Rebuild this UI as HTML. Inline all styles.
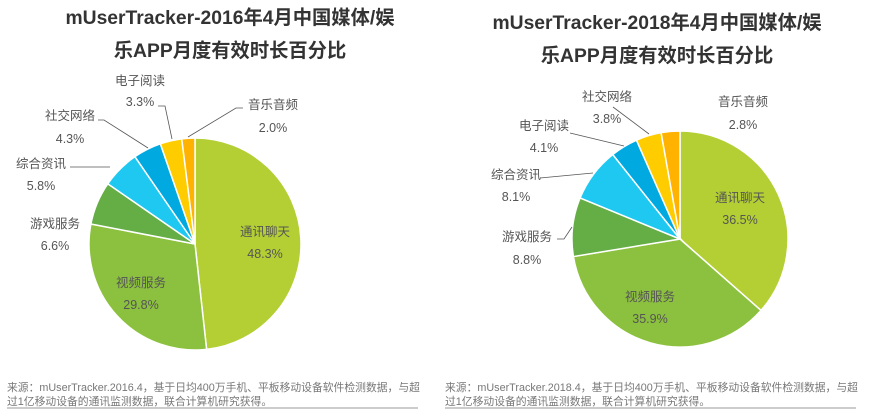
<!DOCTYPE html>
<html><head><meta charset="utf-8">
<style>
html,body{margin:0;padding:0;background:#fff;width:877px;height:411px;overflow:hidden}
svg{display:block}
text{font-family:"Liberation Sans","Noto Sans CJK SC",sans-serif}
.t{font-weight:bold;font-size:19.3px;fill:#333;text-anchor:middle}
.l{font-size:12.5px;fill:#555;text-anchor:middle}
.f{font-size:10.8px;fill:#777}
</style></head><body>
<svg id="s" width="877" height="411" viewBox="0 0 877 411">
<text class="t" x="230" y="24">mUserTracker-2016年4月中国媒体/娱</text>
<text class="t" x="230" y="57">乐APP月度有效时长百分比</text>
<text class="t" x="657" y="29">mUserTracker-2018年4月中国媒体/娱</text>
<text class="t" x="657" y="62">乐APP月度有效时长百分比</text>
<g id="p1"></g><g id="p2"></g>
<g stroke="#555" stroke-width="0.8" fill="none">
<polyline points="158,106 165,106 172,139"/>
<polyline points="243,108 236,108 188,137"/>
<polyline points="98,120 104,120 148,148"/>
<polyline points="70,167 110,167"/>
<polyline points="613,107 649,134"/>
<polyline points="570,133 624,146"/>
<polyline points="540,178 593,173"/>
<polyline points="557,239 564,239 572,227"/>
</g>
<g class="lb">
<text class="l" x="140" y="85">电子阅读</text><text class="l" x="140" y="106">3.3%</text>
<text class="l" x="273" y="109">音乐音频</text><text class="l" x="273" y="132">2.0%</text>
<text class="l" x="70" y="120">社交网络</text><text class="l" x="70" y="143">4.3%</text>
<text class="l" x="41" y="168">综合资讯</text><text class="l" x="41" y="190">5.8%</text>
<text class="l" x="55" y="228">游戏服务</text><text class="l" x="55" y="250">6.6%</text>
<text class="l" x="265" y="236">通讯聊天</text><text class="l" x="265" y="258">48.3%</text>
<text class="l" x="141" y="287">视频服务</text><text class="l" x="141" y="309">29.8%</text>
<text class="l" x="607" y="101">社交网络</text><text class="l" x="607" y="123">3.8%</text>
<text class="l" x="743" y="106">音乐音频</text><text class="l" x="743" y="129">2.8%</text>
<text class="l" x="544" y="130">电子阅读</text><text class="l" x="544" y="152">4.1%</text>
<text class="l" x="516" y="179">综合资讯</text><text class="l" x="516" y="201">8.1%</text>
<text class="l" x="527" y="241">游戏服务</text><text class="l" x="527" y="264">8.8%</text>
<text class="l" x="740" y="202">通讯聊天</text><text class="l" x="740" y="224">36.5%</text>
<text class="l" x="650" y="301">视频服务</text><text class="l" x="650" y="323">35.9%</text>
</g>
<text class="f" x="7" y="391">来源：mUserTracker.2016.4，基于日均400万手机、平板移动设备软件检测数据，与超</text>
<text class="f" x="7" y="405">过1亿移动设备的通讯监测数据，联合计算机研究获得。</text>
<line x1="7" y1="408" x2="418" y2="408" stroke="#bbb" stroke-width="1.5"/>
<text class="f" x="445" y="391">来源：mUserTracker.2018.4，基于日均400万手机、平板移动设备软件检测数据，与超</text>
<text class="f" x="445" y="405">过1亿移动设备的通讯监测数据，联合计算机研究获得。</text>
<line x1="445" y1="408" x2="856" y2="408" stroke="#bbb" stroke-width="1.5"/>
</svg>
<script>
function pie(id,cx,cy,r,vals,cols){
  var g=document.getElementById(id),tot=0,a=0,h='';
  vals.forEach(function(v){tot+=v});
  vals.forEach(function(v,i){
    var a2=a+v/tot*2*Math.PI;
    var x1=cx+r*Math.sin(a),y1=cy-r*Math.cos(a),x2=cx+r*Math.sin(a2),y2=cy-r*Math.cos(a2);
    h+='<path d="M'+cx+','+cy+'L'+x1+','+y1+'A'+r+','+r+' 0 '+(a2-a>Math.PI?1:0)+' 1 '+x2+','+y2+'Z" fill="'+cols[i]+'" stroke="#fff" stroke-width="1.5"/>';
    a=a2;
  });
  g.innerHTML=h;
}
pie('p1',195,244,106,[48.3,29.8,6.6,5.8,4.3,3.3,2.0],['#b3cf34','#8cc13f','#65ad45','#1ec8f0','#00a9e0','#ffcc00','#ffb300']);
pie('p2',680,239,108,[36.5,35.9,8.8,8.1,4.1,3.8,2.8],['#b3cf34','#8cc13f','#65ad45','#1ec8f0','#00a9e0','#ffcc00','#ffb300']);
</script>
</body></html>
